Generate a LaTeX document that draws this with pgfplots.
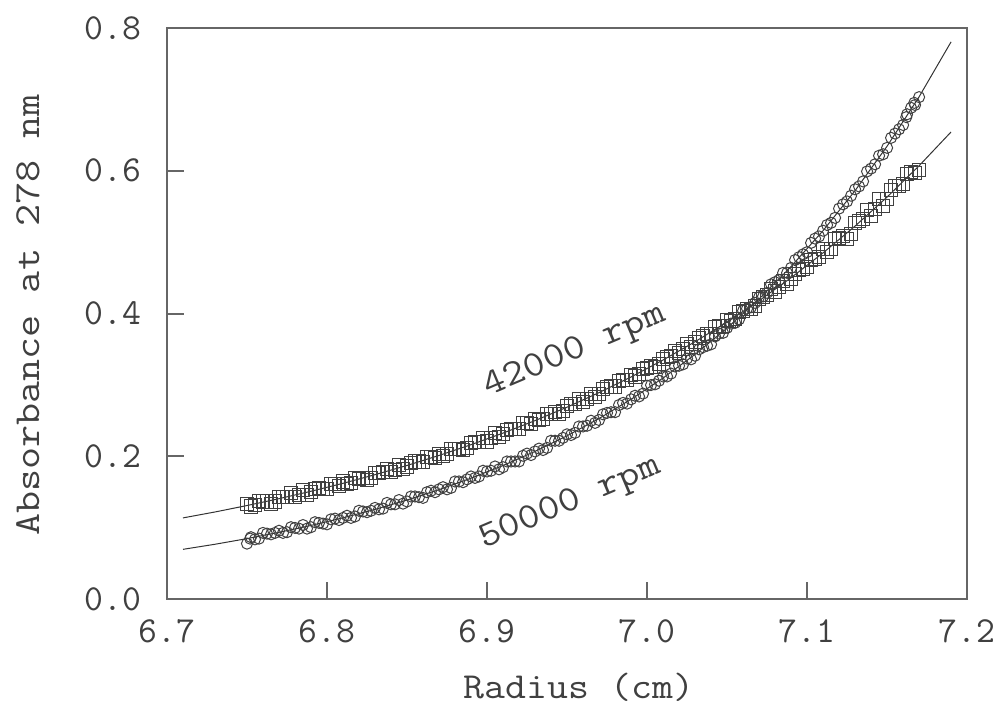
\documentclass[border=0pt]{standalone}
\usepackage{fontspec}
\usepackage{graphicx}
\usepackage{pgfplots}
\pgfplotsset{compat=1.18}
\usepackage{pgfplotstable}

\newcommand{\lbl}{\ttfamily\fontsize{18.5}{21}\selectfont}
\newcommand{\wide}[2][1.14]{\scalebox{#1}[1]{#2}}

% squares, 42000 rpm
\pgfplotstableread{
x y
6.750 0.134
6.755 0.132
6.760 0.137
6.765 0.134
6.770 0.143
6.775 0.143
6.780 0.143
6.785 0.153
6.790 0.150
6.795 0.156
6.800 0.155
6.805 0.161
6.810 0.165
6.815 0.163
6.820 0.169
6.825 0.167
6.830 0.177
6.835 0.178
6.840 0.178
6.845 0.188
6.850 0.186
6.855 0.193
6.860 0.192
6.865 0.199
6.870 0.204
6.875 0.203
6.880 0.210
6.885 0.209
6.890 0.219
6.895 0.220
6.900 0.221
6.905 0.233
6.910 0.232
6.915 0.239
6.920 0.239
6.925 0.247
6.930 0.253
6.935 0.253
6.940 0.260
6.945 0.260
6.950 0.271
6.955 0.274
6.960 0.276
6.965 0.288
6.970 0.288
6.975 0.297
6.980 0.298
6.985 0.307
6.990 0.314
6.995 0.315
7.000 0.324
7.005 0.325
7.010 0.337
7.015 0.341
7.020 0.345
7.025 0.358
7.030 0.360
7.035 0.369
7.040 0.372
7.045 0.382
7.050 0.391
7.055 0.393
7.060 0.404
7.065 0.406
7.070 0.420
7.075 0.426
7.080 0.431
7.085 0.446
7.090 0.449
7.095 0.461
7.100 0.465
7.105 0.477
7.110 0.491
7.115 0.490
7.120 0.506
7.125 0.505
7.130 0.527
7.135 0.532
7.140 0.536
7.145 0.561
7.150 0.561
7.155 0.578
7.160 0.581
7.165 0.598
7.170 0.601
}\sqdata

\pgfplotstableread{
x y
6.7525 0.130
6.7575 0.138
6.7625 0.137
6.7675 0.137
6.7725 0.143
6.7775 0.149
6.7825 0.146
6.7875 0.146
6.7925 0.155
6.7975 0.155
6.8025 0.161
6.8075 0.159
6.8125 0.162
6.8175 0.170
6.8225 0.170
6.8275 0.170
6.8325 0.177
6.8375 0.183
6.8425 0.181
6.8475 0.182
6.8525 0.191
6.8575 0.193
6.8625 0.199
6.8675 0.198
6.8725 0.201
6.8775 0.210
6.8825 0.211
6.8875 0.212
6.8925 0.220
6.8975 0.226
6.9025 0.226
6.9075 0.227
6.9125 0.237
6.9175 0.239
6.9225 0.247
6.9275 0.246
6.9325 0.251
6.9375 0.260
6.9425 0.262
6.9475 0.264
6.9525 0.273
6.9575 0.281
6.9625 0.281
6.9675 0.283
6.9725 0.294
6.9775 0.298
6.9825 0.306
6.9875 0.307
6.9925 0.312
6.9975 0.323
7.0025 0.326
7.0075 0.329
7.0125 0.339
7.0175 0.348
7.0225 0.350
7.0275 0.353
7.0325 0.366
7.0375 0.371
7.0425 0.381
7.0475 0.383
7.0525 0.390
7.0575 0.402
7.0625 0.407
7.0675 0.411
7.0725 0.423
7.0775 0.434
7.0825 0.437
7.0875 0.442
7.0925 0.456
7.0975 0.463
7.1025 0.475
7.1075 0.479
7.1125 0.486
7.1175 0.505
7.1225 0.508
7.1275 0.512
7.1325 0.530
7.1375 0.545
7.1425 0.546
7.1475 0.550
7.1525 0.573
7.1575 0.579
7.1625 0.596
7.1675 0.597
}\sqdataB

% circles, 50000 rpm
\pgfplotstableread{
x y
6.750 0.078
6.752 0.085
6.755 0.084
6.760 0.093
6.765 0.091
6.770 0.096
6.775 0.094
6.780 0.100
6.785 0.104
6.790 0.101
6.795 0.107
6.800 0.105
6.805 0.113
6.810 0.114
6.815 0.114
6.820 0.124
6.825 0.122
6.830 0.128
6.835 0.127
6.840 0.133
6.845 0.139
6.850 0.137
6.855 0.144
6.860 0.142
6.865 0.152
6.870 0.154
6.875 0.154
6.880 0.165
6.885 0.164
6.890 0.172
6.895 0.172
6.900 0.179
6.905 0.186
6.910 0.185
6.915 0.193
6.920 0.193
6.925 0.204
6.930 0.207
6.935 0.209
6.940 0.222
6.945 0.222
6.950 0.231
6.955 0.233
6.960 0.242
6.965 0.250
6.970 0.251
6.975 0.261
6.980 0.262
6.985 0.275
6.990 0.280
6.995 0.284
7.000 0.299
7.005 0.301
7.010 0.312
7.015 0.316
7.020 0.327
7.025 0.337
7.030 0.341
7.035 0.353
7.040 0.357
7.045 0.372
7.050 0.380
7.055 0.387
7.060 0.404
7.065 0.409
7.070 0.423
7.075 0.429
7.080 0.444
7.085 0.457
7.090 0.464
7.095 0.479
7.100 0.486
7.105 0.505
7.110 0.516
7.115 0.527
7.120 0.547
7.125 0.557
7.130 0.574
7.135 0.585
7.140 0.603
7.145 0.621
7.150 0.632
7.155 0.652
7.160 0.664
7.162 0.675
7.165 0.688
7.167 0.695
7.170 0.703
}\cidata

\pgfplotstableread{
x y
6.7525 0.087
6.7575 0.085
6.7625 0.092
6.7675 0.093
6.7725 0.093
6.7775 0.101
6.7825 0.099
6.7875 0.099
6.7925 0.108
6.7975 0.106
6.8025 0.112
6.8075 0.111
6.8125 0.117
6.8175 0.116
6.8225 0.123
6.8275 0.124
6.8325 0.126
6.8375 0.135
6.8425 0.133
6.8475 0.134
6.8525 0.144
6.8575 0.143
6.8625 0.150
6.8675 0.150
6.8725 0.157
6.8775 0.156
6.8825 0.165
6.8875 0.168
6.8925 0.170
6.8975 0.180
6.9025 0.180
6.9075 0.182
6.9125 0.193
6.9175 0.193
6.9225 0.201
6.9275 0.202
6.9325 0.211
6.9375 0.212
6.9425 0.222
6.9475 0.226
6.9525 0.230
6.9575 0.242
6.9625 0.243
6.9675 0.247
6.9725 0.259
6.9775 0.262
6.9825 0.272
6.9875 0.274
6.9925 0.285
6.9975 0.288
7.0025 0.300
7.0075 0.306
7.0125 0.312
7.0175 0.326
7.0225 0.329
7.0275 0.336
7.0325 0.350
7.0375 0.355
7.0425 0.368
7.0475 0.373
7.0525 0.386
7.0575 0.392
7.0625 0.407
7.0675 0.415
7.0725 0.424
7.0775 0.441
7.0825 0.447
7.0875 0.457
7.0925 0.475
7.0975 0.483
7.1025 0.499
7.1075 0.508
7.1125 0.524
7.1175 0.534
7.1225 0.553
7.1275 0.565
7.1325 0.578
7.1375 0.599
7.1425 0.609
7.1475 0.623
7.1525 0.646
7.1575 0.658
7.1625 0.679
7.1675 0.692
}\cidataB

% fitted curves
\pgfplotstableread{
x a b
6.71 0.1140 0.0700
6.73 0.1223 0.0771
6.75 0.1313 0.0850
6.77 0.1409 0.0938
6.79 0.1513 0.1034
6.81 0.1624 0.1141
6.83 0.1745 0.1259
6.85 0.1874 0.1390
6.87 0.2014 0.1535
6.89 0.2165 0.1696
6.91 0.2327 0.1873
6.93 0.2502 0.2071
6.95 0.2690 0.2289
6.97 0.2894 0.2531
6.99 0.3113 0.2800
7.01 0.3350 0.3098
7.03 0.3606 0.3429
7.05 0.3882 0.3797
7.07 0.4180 0.4205
7.09 0.4502 0.4658
7.11 0.4850 0.5161
7.13 0.5225 0.5721
7.15 0.5631 0.6343
7.17 0.6069 0.7034
7.19 0.6543 0.7804
}\fitdata

\begin{document}
\begin{tikzpicture}
\begin{axis}[
    scale only axis,
    width=402.5bp, height=287.5bp,
    xmin=6.7, xmax=7.2, ymin=0, ymax=0.8,
    xtick={6.7,6.8,...,7.2}, ytick={0,0.2,...,0.8},
    tick align=inside, xtick pos=left, ytick pos=left,
    major tick length=8.5bp,
    axis line style={black!60, line width=1bp},
    every tick/.style={black!60, line width=1bp},
    /pgf/number format/assume math mode=true,
    /pgf/number format/.cd, fixed, fixed zerofill, precision=1, /pgfplots/.cd,
    tick label style={font=\lbl, text=black!75},
    xticklabel style={yshift=-6.5bp},
    yticklabel style={xshift=-9.5bp},
    xlabel={\wide[1.11]{Radius (cm)}},
    ylabel={\wide[1.17]{Absorbance at 278 nm}},
    every axis x label/.style={at={(axis description cs:0.5,0)}, xshift=6bp, yshift=-44.5bp, anchor=center, font=\lbl, text=black!75},
    every axis y label/.style={at={(axis description cs:0,0.5)}, xshift=-70bp, yshift=-0.75bp, rotate=90, anchor=center, font=\lbl, text=black!75},
]
\addplot[black!80, line width=0.5bp] table[x=x, y=a] {\fitdata};
\addplot[black!80, line width=0.5bp] table[x=x, y=b] {\fitdata};
\addplot[only marks, mark=square, mark size=3.3bp, black!75, mark options={line width=0.5bp}] table {\sqdata};
\addplot[only marks, mark=square, mark size=3.3bp, black!75, mark options={line width=0.5bp}] table {\sqdataB};
\addplot[only marks, mark=o, mark size=2.8bp, black!75, mark options={line width=0.5bp}] table {\cidata};
\addplot[only marks, mark=o, mark size=2.8bp, black!75, mark options={line width=0.5bp}] table {\cidataB};
\node[font=\lbl, text=black!75, rotate=23] at (axis cs:6.955,0.347) {\wide{42000 rpm}};
\node[font=\lbl, text=black!75, rotate=23] at (axis cs:6.952,0.134) {\wide{50000 rpm}};
\end{axis}
\path (-84bp,-57bp) rectangle (417bp,301.5bp);
\end{tikzpicture}
\end{document}
